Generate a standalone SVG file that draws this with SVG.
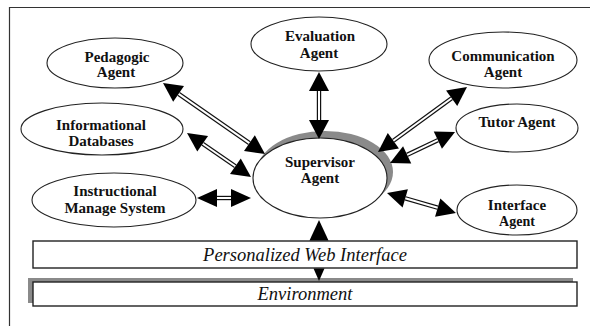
<svg xmlns="http://www.w3.org/2000/svg" width="590" height="326" viewBox="0 0 590 326">
<style>
.node ellipse{fill:#fff;stroke:#222;stroke-width:1.1}
.lbl{font-family:"Liberation Serif","Times New Roman",serif;font-weight:bold;font-size:15px;fill:#111;text-anchor:middle}
.bar{fill:#fff;stroke:#222;stroke-width:1.4}
.bartxt{font-family:"Liberation Serif","Times New Roman",serif;font-style:italic;font-size:18.5px;fill:#111;text-anchor:middle}
.head{fill:#000}
.shaft{stroke:#111;stroke-width:1.2}
</style>
<rect x="0" y="0" width="590" height="326" fill="#fff"/>
<path d="M9.5,326 V7.5 H590" fill="none" stroke="#333" stroke-width="1.2"/>

<g id="pedagogic" class="node">
<ellipse cx="115" cy="63" rx="68" ry="25"/>
<text class="lbl" x="117" y="62">Pedagogic</text>
<text class="lbl" x="116" y="77">Agent</text>
</g>
<g id="informational" class="node">
<ellipse cx="102" cy="129" rx="81" ry="26"/>
<text class="lbl" x="101" y="130">Informational</text>
<text class="lbl" x="101" y="146">Databases</text>
</g>
<g id="instructional" class="node">
<ellipse cx="114" cy="200" rx="82" ry="27"/>
<text class="lbl" x="115" y="196">Instructional</text>
<text class="lbl" x="115" y="213">Manage System</text>
</g>
<g id="evaluation" class="node">
<ellipse cx="319" cy="44" rx="68" ry="27"/>
<text class="lbl" x="320" y="41">Evaluation</text>
<text class="lbl" x="319" y="58">Agent</text>
</g>
<g id="communication" class="node">
<ellipse cx="503" cy="60" rx="74" ry="28"/>
<text class="lbl" x="503" y="61">Communication</text>
<text class="lbl" x="503" y="77">Agent</text>
</g>
<g id="tutor" class="node">
<ellipse cx="517" cy="128" rx="61" ry="24"/>
<text class="lbl" x="517" y="127">Tutor Agent</text>
</g>
<g id="interface" class="node">
<ellipse cx="517" cy="210" rx="60" ry="25"/>
<text class="lbl" x="517" y="210">Interface</text>
<text class="lbl" x="517" y="226" style="font-size:14px">Agent</text>
</g>
<g id="supervisor" class="node">
<ellipse cx="325" cy="172" rx="68" ry="41" style="fill:#8a8a8a;stroke:none"/>
<ellipse cx="320" cy="178" rx="67" ry="40"/>
<text class="lbl" x="320" y="167">Supervisor</text>
<text class="lbl" x="320" y="183">Agent</text>
</g>

<g id="environment">
<rect x="28" y="278" width="545" height="25" fill="#8a8a8a"/>
<rect class="bar" x="33" y="282" width="544" height="24"/>
<text class="bartxt" x="305" y="300">Environment</text>
</g>
<g id="pwi">
<rect class="bar" x="33" y="241" width="544" height="27"/>
<text class="bartxt" x="305" y="261">Personalized Web Interface</text>
</g>

<g id="connectors">
<g transform="translate(163,83) rotate(34.84)">
<polygon class="head" points="0,0 19,-9.5 19,9.5"/><polygon class="head" points="124.3,0 105.3,-9.5 105.3,9.5"/>
<line class="shaft" x1="19" y1="-1.6" x2="105.3" y2="-1.6"/><line class="shaft" x1="19" y1="1.6" x2="105.3" y2="1.6"/>
</g>
<g transform="translate(187,133) rotate(34.5)">
<polygon class="head" points="0,0 19,-9.5 19,9.5"/><polygon class="head" points="77.7,0 58.7,-9.5 58.7,9.5"/>
<line class="shaft" x1="19" y1="-1.6" x2="58.7" y2="-1.6"/><line class="shaft" x1="19" y1="1.6" x2="58.7" y2="1.6"/>
</g>
<g transform="translate(197,198)">
<polygon class="head" points="0,0 20,-9 20,9"/><polygon class="head" points="54,0 34,-9 34,9"/>
<line class="shaft" x1="20" y1="-1.6" x2="34" y2="-1.6"/><line class="shaft" x1="20" y1="1.6" x2="34" y2="1.6"/>
</g>
<g transform="translate(319,72) rotate(90)">
<polygon class="head" points="0,0 19,-10 19,10"/><polygon class="head" points="67,0 48,-10 48,10"/>
<line class="shaft" x1="19" y1="-1.6" x2="48" y2="-1.6"/><line class="shaft" x1="19" y1="1.6" x2="48" y2="1.6"/>
</g>
<g transform="translate(467,87) rotate(143.86)">
<polygon class="head" points="0,0 19,-9.5 19,9.5"/><polygon class="head" points="110.2,0 91.2,-9.5 91.2,9.5"/>
<line class="shaft" x1="19" y1="-1.6" x2="91.2" y2="-1.6"/><line class="shaft" x1="19" y1="1.6" x2="91.2" y2="1.6"/>
</g>
<g transform="translate(455,132) rotate(154.5)">
<polygon class="head" points="0,0 19,-9.5 19,9.5"/><polygon class="head" points="72,0 53,-9.5 53,9.5"/>
<line class="shaft" x1="19" y1="-1.6" x2="53" y2="-1.6"/><line class="shaft" x1="19" y1="1.6" x2="53" y2="1.6"/>
</g>
<g transform="translate(387,193) rotate(16.16)">
<polygon class="head" points="0,0 19,-9.5 19,9.5"/><polygon class="head" points="71.8,0 52.8,-9.5 52.8,9.5"/>
<line class="shaft" x1="19" y1="-1.6" x2="52.8" y2="-1.6"/><line class="shaft" x1="19" y1="1.6" x2="52.8" y2="1.6"/>
</g>
<polygon class="head" points="319,220 309.5,240.5 328.5,240.5"/>
<polygon class="head" points="319,281 313.5,268.5 324.5,268.5"/>
</g>
</svg>
